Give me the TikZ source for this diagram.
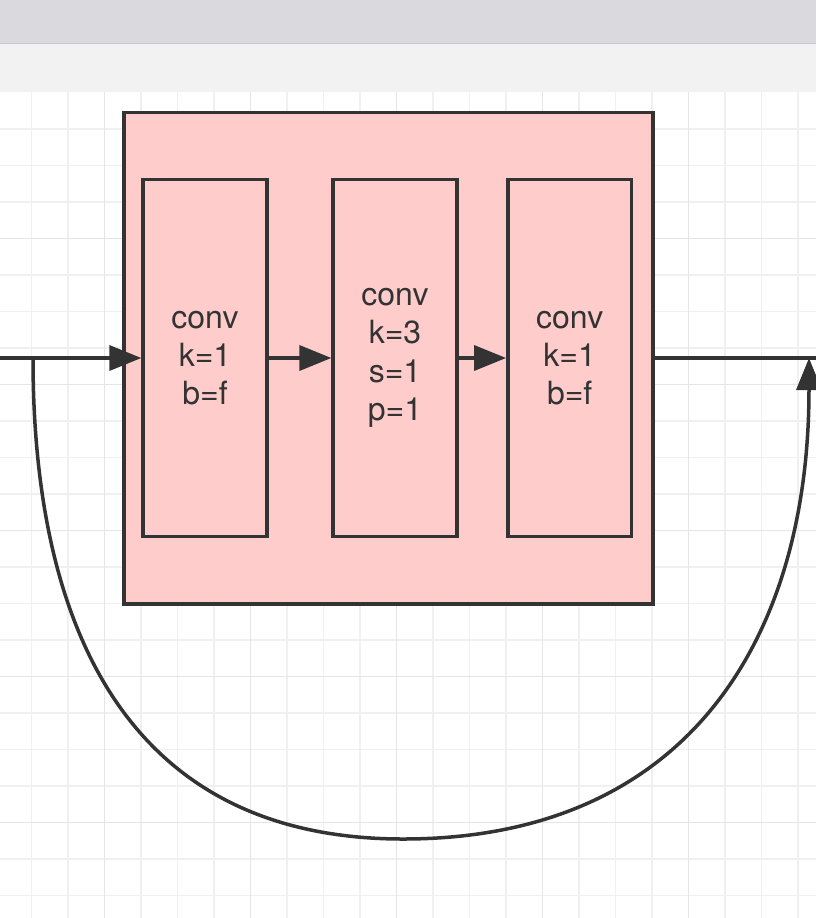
\documentclass[tikz,border=0pt]{standalone}
\usepackage{fontspec}
\setmainfont{TeX Gyre Heros}
\usetikzlibrary{arrows.meta, positioning, calc}
\definecolor{BarGray}{HTML}{D9D9DE}
\definecolor{BarEdge}{HTML}{C9C9CD}
\definecolor{StripGray}{HTML}{F2F2F2}
\definecolor{GridMinor}{HTML}{F0F0F0}
\definecolor{GridMajor}{HTML}{E5E5E5}
\definecolor{BlockPink}{HTML}{FFCCCC}
\definecolor{InkGray}{HTML}{333333}

\begin{document}
\begin{tikzpicture}[x=1pt, y=-1pt, line width=3.5pt,
        >={Triangle[length=32pt, width=25pt]},
        convbox/.style={draw=InkGray, fill=BlockPink, minimum width=123.7pt,
            minimum height=356.7pt, inner sep=0pt, align=center, text=InkGray,
            font=\fontsize{32}{38.3}\selectfont},
        groupbox/.style={draw=InkGray, fill=BlockPink, minimum width=529pt,
            minimum height=491.5pt, inner sep=0pt},
        link/.style={->, draw=InkGray}]
        \useasboundingbox (0,0) rectangle (816,918);

        % Canvas
        \fill [BarGray] (0,0) rectangle (816,43);
        \draw [BarEdge, line width=1pt] (0,43) -- (816,43);
        \fill [StripGray] (0,43.5) rectangle (816,92);
        \fill [white] (0,92) rectangle (816,918);
        \foreach \gx in {0,...,21}
            \draw [GridMinor, line width=1.5pt] (31.7+36.5*\gx,92) -- (31.7+36.5*\gx,918);
        \foreach \gy in {1,...,22}
            \draw [GridMinor, line width=1.5pt] (0,92.3+36.5*\gy) -- (816,92.3+36.5*\gy);
        \foreach \gx in {0,...,4}
            \draw [GridMajor, line width=1.5pt] (104.7+146*\gx,92) -- (104.7+146*\gx,918);
        \foreach \gy in {1,...,5}
            \draw [GridMajor, line width=1.5pt] (0,92.3+146*\gy) -- (816,92.3+146*\gy);

        % Bottleneck block
        \node [groupbox] (group) at (388.5,358) {};
        \node [convbox] (convA) at (205,358) {conv\\k=1\\b=f};
        \node [convbox] (convB) at (395,358) {conv\\k=3\\s=1\\p=1};
        \node [convbox] (convC) at (569.7,358) {conv\\k=1\\b=f};

        % Main path
        \coordinate (input) at (0,358);
        \coordinate (split) at (33,358);
        \coordinate (output) at (816,358);
        \draw [link] (input) -- (convA);
        \draw [link] (convA) -- (convB);
        \draw [link] (convB) -- (convC);
        \draw [InkGray] (group) -- (output);

        % Shortcut
        \coordinate (bottom) at (403,839);
        \coordinate (merge) at (809,358);
        \draw [link] (split) to[out=-90, in=180, looseness=1.15] (bottom)
            to[out=0, in=-90, looseness=1.15] (merge);
    \end{tikzpicture}
\end{document}
